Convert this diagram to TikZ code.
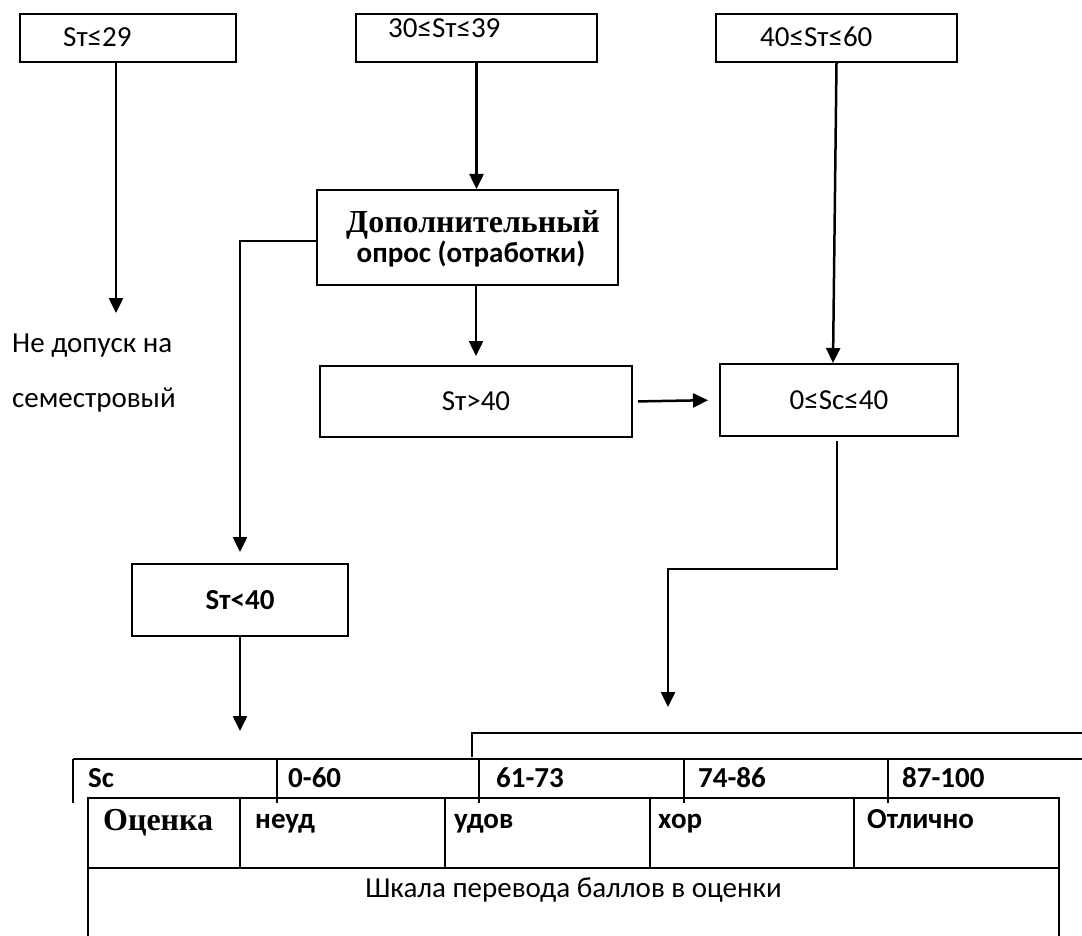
\documentclass[tikz,border=0pt]{standalone}
\usepackage{fontspec}
\setmainfont{Carlito}
\newfontfamily\tnr{Liberation Serif}
\usetikzlibrary{arrows.meta}
\begin{document}
\begin{tikzpicture}[x=1pt,y=-1pt,
  every node/.style={font=\fontsize{29pt}{34pt}\selectfont},
  box/.style={draw,line width=2pt,inner sep=0pt},
  arr/.style={line width=2.5pt,-{Triangle[width=14pt,length=15pt]}},
  ln/.style={line width=2pt},
  lbl/.style={inner sep=0pt,anchor=base west},
  bl/.style={inner sep=0pt,anchor=base west,font=\fontsize{29pt}{34pt}\selectfont\bfseries},
  tb/.style={inner sep=0pt,anchor=base west,font=\fontsize{32pt}{36pt}\selectfont\tnr\bfseries}]
\useasboundingbox (0,0) rectangle (1082,936);
% top boxes
\node[box,minimum width=216pt,minimum height=48pt] (b1) at (128,38) {};
\node[lbl] (b1t) at (63,47) {Sт≤29};
\node[box,minimum width=241pt,minimum height=48pt] (b2) at (476.5,38) {};
\node[lbl] (b2t) at (388,38) {30≤Sт≤39};
\node[box,minimum width=241pt,minimum height=48pt] (b3) at (836.5,38) {};
\node[lbl] (b3t) at (760,47) {40≤Sт≤60};
% additional quiz box
\node[box,minimum width=301pt,minimum height=95pt] (dop) at (467.5,237.5) {};
\node[tb,anchor=base] (dop1) at (473,233) {Дополнительный};
\node[bl,anchor=base] (dop2) at (471,262) {опрос (отработки)};
% middle boxes
\node[box,minimum width=312pt,minimum height=71pt] (stgt) at (476,401.5) {Sт>40};
\node[box,minimum width=238pt,minimum height=72pt] (sc) at (839,400) {0≤Sc≤40};
\node[box,minimum width=216pt,minimum height=72pt,font=\fontsize{29pt}{34pt}\selectfont\bfseries] (stlt) at (240,600) {Sт<40};
% left text
\node[lbl] (nd1) at (12,352) {Не допуск на};
\node[lbl] (nd2) at (12,407) {семестровый};
% connectors
\coordinate (a1end) at (116,313);
\draw[arr] (b1.south -| a1end) -- (a1end);
\draw[arr] (b2.south) -- (b2.south |- dop.north);
\draw[arr] (b3.south) -- ([xshift=-6pt]sc.north);
\draw[arr,shorten >=9pt] (stgt.north |- dop.south) -- (stgt.north);
\draw[arr,shorten >=11pt] ([yshift=-3.5pt]dop.west) -| (stlt.north);
\draw[arr,shorten <=5pt,shorten >=11pt] (stgt.east) -- (sc.west);
\coordinate (tabarrow) at (668,707);
\draw[arr] ([shift={(-2pt,-4pt)}]sc.south) -- ++(0,128) -| (tabarrow);
\coordinate (t1) at (240,731);
\draw[arr] (stlt.south) -- (t1);
% bracket
\draw[ln] (472,757) -- (472,733) -- (1082,733);
% table row 1
\draw[ln] (73,759) -- (1082,759);
\foreach \x in {73,277,479,684,888} \draw[ln] (\x,759) -- (\x,803);
\node[bl] (r1a) at (88,787) {Sc};
\node[bl] (r1b) at (288,787) {0-60};
\node[bl] (r1c) at (496,787) {61-73};
\node[bl] (r1d) at (698,787) {74-86};
\node[bl] (r1e) at (902,787) {87-100};
% table row 2
\draw[ln] (88,936) -- (88,798) -- (1059,798) -- (1059,936);
\draw[ln] (88,868) -- (1059,868);
\foreach \x in {240,445,650,854} \draw[ln] (\x,798) -- (\x,868);
\node[tb] (r2a) at (103,830) {Оценка};
\node[bl] (r2b) at (255,828) {неуд};
\node[bl] (r2c) at (454,828) {удов};
\node[bl] (r2d) at (658,828) {хор};
\node[bl] (r2e) at (867,828) {Отлично};
% row 3
\node[inner sep=0pt,anchor=base] (r3) at (573.5,897) {Шкала перевода баллов в оценки};
\end{tikzpicture}
\end{document}
